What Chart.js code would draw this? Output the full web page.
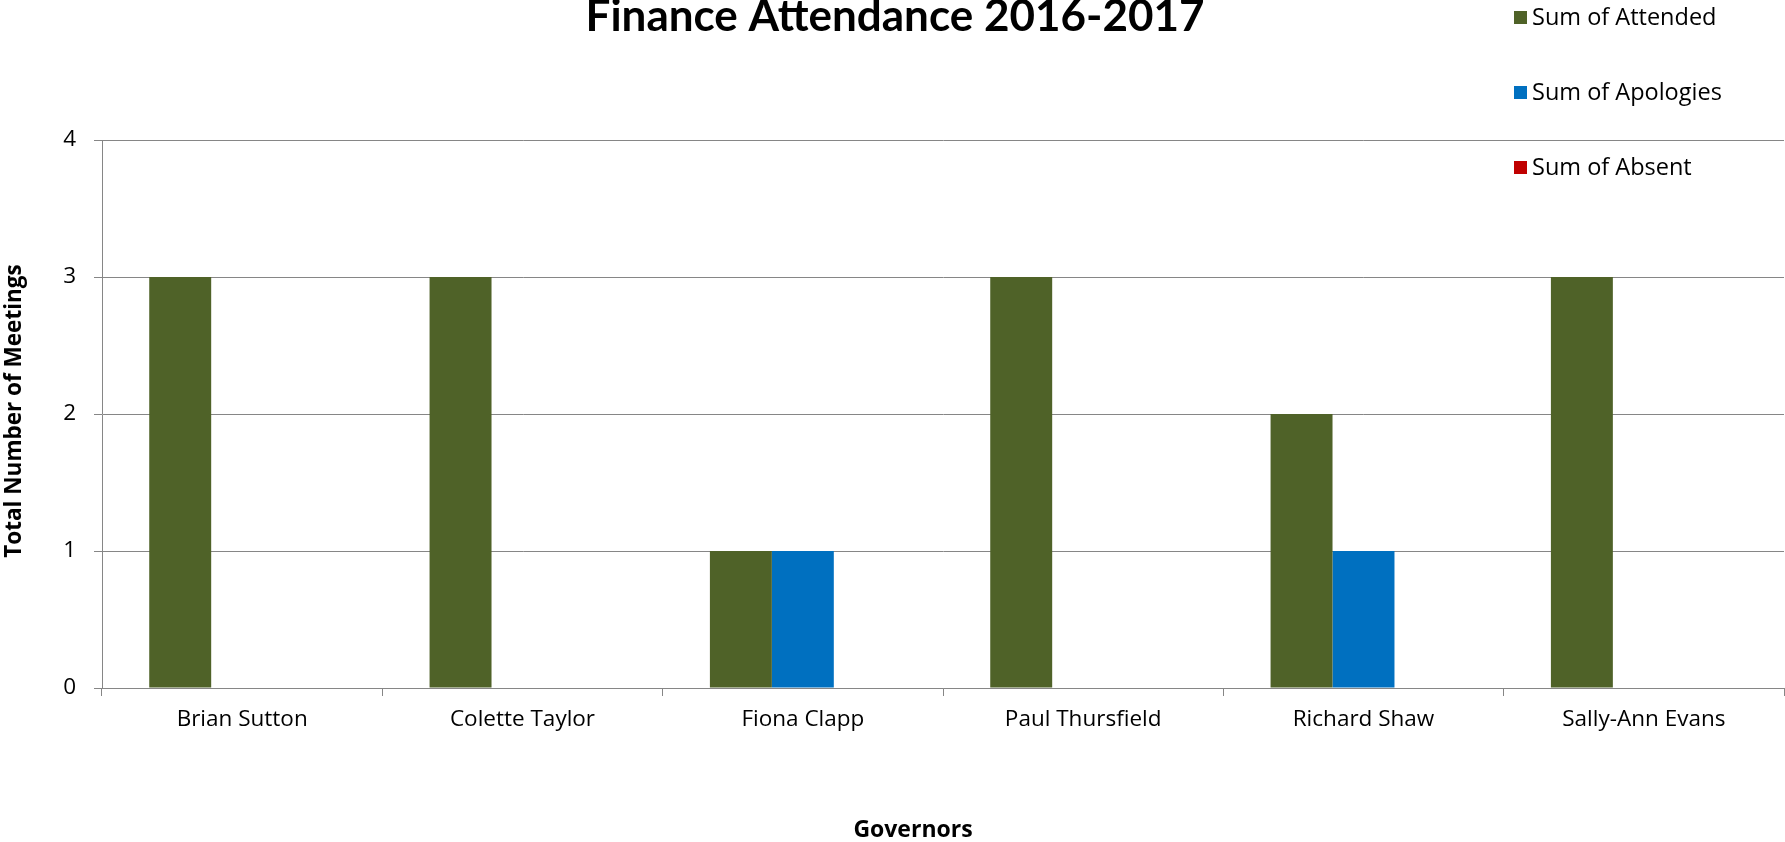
<!DOCTYPE html>
<html>
<head>
<meta charset="utf-8">
<script src="https://cdn.jsdelivr.net/npm/chart.js@4.4.0/dist/chart.umd.min.js"></script>
<style>
  html, body { margin: 0; padding: 0; background: #fff; }
  #wrap { width: 1785px; height: 842px; position: relative; }
</style>
</head>
<body>
<div id="wrap"><canvas id="chart" width="1785" height="842"></canvas></div>
<script>
/* data */
const governors = ['Brian Sutton', 'Colette Taylor', 'Fiona Clapp', 'Paul Thursfield', 'Richard Shaw', 'Sally-Ann Evans'];
const attended  = [3, 3, 1, 3, 2, 3];
const apologies = [0, 0, 1, 0, 1, 0];
const absent    = [0, 0, 0, 0, 0, 0];
const seriesNames = ['Sum of Attended', 'Sum of Apologies', 'Sum of Absent'];
const yTicks = [0, 1, 2, 3, 4];

const FONT  = '"Open Sans", Lato, sans-serif';
const TFONT = 'Lato, "Open Sans", sans-serif';
const GRID  = '#868686';

/* title, legend and axis titles drawn by hand so they sit where Excel put them */
const decor = {
  id: 'decor',
  afterDraw(chart) {
    const ctx = chart.ctx;
    ctx.save();
    ctx.fillStyle = '#000';

    // title (top is clipped in the original)
    ctx.font = 'bold 44px ' + TFONT;
    ctx.textAlign = 'center';
    ctx.textBaseline = 'alphabetic';
    ctx.fillText('Finance Attendance 2016-2017', 895, 31);

    // x axis title
    ctx.font = 'bold 23px ' + FONT;
    ctx.textBaseline = 'middle';
    ctx.fillText('Governors', 913, 830);

    // y axis title
    ctx.font = 'bold 22.5px ' + FONT;
    ctx.translate(15, 411);
    ctx.rotate(-Math.PI / 2);
    ctx.fillText('Total Number of Meetings', 0, 0);
    ctx.setTransform(1, 0, 0, 1, 0, 0);

    // legend
    const legendY = [17, 92, 167];
    ctx.font = '23.5px ' + FONT;
    ctx.textAlign = 'left';
    chart.data.datasets.forEach((ds, i) => {
      ctx.fillStyle = ds.backgroundColor;
      ctx.fillRect(1514, legendY[i] - 6, 13, 13);
      ctx.fillStyle = '#000';
      ctx.fillText(ds.label, 1532, legendY[i] + 1);
    });
    ctx.restore();
  }
};

new Chart(document.getElementById('chart'), {
  type: 'bar',
  data: {
    labels: governors,
    datasets: [
      { label: seriesNames[0], data: attended,  backgroundColor: '#4F6228' },
      { label: seriesNames[1], data: apologies, backgroundColor: '#0070C0' },
      { label: seriesNames[2], data: absent,    backgroundColor: '#C00000' }
    ]
  },
  options: {
    responsive: false,
    animation: false,
    layout: { padding: { top: 140, right: 1, left: 0, bottom: 0 } },
    datasets: { bar: { categoryPercentage: 0.663, barPercentage: 1.0, borderWidth: 0 } },
    plugins: {
      legend: { display: false },
      title: { display: false },
      tooltip: { enabled: false }
    },
    scales: {
      x: {
        grid: { display: true, offset: true, drawOnChartArea: false, color: GRID, tickLength: 8, lineWidth: 1 },
        border: { color: GRID, width: 1 },
        ticks: { color: '#000', font: { family: FONT, size: 22.5 }, padding: 10, maxRotation: 0 },
        afterFit(scale) { scale.height = 154; }
      },
      y: {
        min: 0, max: 4,
        afterBuildTicks(scale) { scale.ticks = yTicks.map(v => ({ value: v })); },
        grid: { color: GRID, tickLength: 8, lineWidth: 1 },
        border: { color: GRID, width: 1 },
        ticks: { color: '#000', font: { family: FONT, size: 22.5 }, padding: 18 },
        afterFit(scale) { scale.width = 102; }
      }
    }
  },
  plugins: [decor]
});
</script>
</body>
</html>
